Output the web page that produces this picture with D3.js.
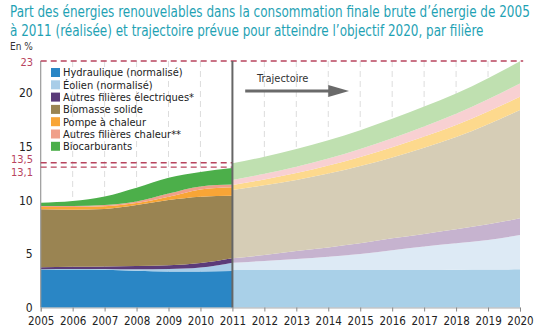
<!DOCTYPE html>
<html><head><meta charset="utf-8">
<script src="https://cdn.jsdelivr.net/npm/d3@7"></script>
<style>
body{margin:0;background:#fff}
svg{display:block}
text{font-family:"Liberation Sans Narrow","DejaVu Sans Condensed","DejaVu Sans",sans-serif}
</style>
</head><body>
<svg id="chart" width="540" height="334"></svg>
<script>
// ---------- DATA ----------
const titleLines = [
  "Part des énergies renouvelables dans la consommation finale brute d’énergie de 2005",
  "à 2011 (réalisée) et trajectoire prévue pour atteindre l’objectif 2020, par filière"
];
const unitLabel = "En %";
const seriesNames = ["Hydraulique (normalisé)", "Éolien (normalisé)", "Autres filières électriques*",
  "Biomasse solide", "Pompe à chaleur", "Autres filières chaleur**", "Biocarburants"];
const seriesKeys = ["hydro", "eolien", "autresElec", "biomasse", "pac", "autresChaleur", "biocarb"];

// realised 2005-2011
const histYears = [2005, 2006, 2007, 2008, 2009, 2010, 2011];
const histHydro        = [3.55, 3.55, 3.52, 3.43, 3.35, 3.35, 3.40];
const histEolien       = [0.03, 0.05, 0.08, 0.14, 0.24, 0.38, 0.78];
const histAutresElec   = [0.17, 0.20, 0.23, 0.30, 0.35, 0.42, 0.42];
const histBiomasse     = [5.41, 5.33, 5.37, 5.69, 6.09, 6.19, 5.83];
const histPac          = [0.22, 0.25, 0.24, 0.18, 0.30, 0.68, 0.80];
const histAutresChaleur= [0.10, 0.10, 0.12, 0.16, 0.30, 0.28, 0.24];
const histBiocarb      = [0.30, 0.45, 0.80, 1.28, 1.47, 1.35, 1.55];

// trajectory 2011-2020
const projYears = [2011, 2012, 2013, 2014, 2015, 2016, 2017, 2018, 2019, 2020];
const projHydro        = [3.50, 3.50, 3.50, 3.50, 3.50, 3.50, 3.50, 3.52, 3.54, 3.56];
const projEolien       = [0.68, 0.84, 1.02, 1.24, 1.49, 1.85, 2.20, 2.48, 2.76, 3.20];
const projAutresElec   = [0.41, 0.56, 0.75, 0.87, 1.00, 1.10, 1.16, 1.29, 1.46, 1.56];
const projBiomasse     = [6.37, 6.50, 6.63, 6.89, 7.21, 7.55, 8.04, 8.61, 9.34, 10.10];
const projPac          = [0.47, 0.55, 0.65, 0.75, 0.85, 0.95, 1.05, 1.12, 1.18, 1.24];
const projAutresChaleur= [0.47, 0.52, 0.58, 0.65, 0.75, 0.85, 0.95, 1.05, 1.15, 1.24];
const projBiocarb      = [1.55, 1.60, 1.65, 1.70, 1.75, 1.80, 1.85, 1.90, 1.97, 2.07];

const xTickYears = [2005,2006,2007,2008,2009,2010,2011,2012,2013,2014,2015,2016,2017,2018,2019,2020];
const yTicks = [0, 5, 10, 15, 20];
const refValues = [23, 13.5, 13.1];
const refLabels = ["23", "13,5", "13,1"];
const trajLabel = "Trajectoire";

// ---------- STYLE ----------
const histColors = ["#2a86c5", "#a9cde8", "#5b3b79", "#9a8452", "#f8a536", "#f0a08a", "#4caf4a"];
const projColors = ["#a9d0e8", "#ddeaf5", "#c6b3cf", "#d6cdb6", "#fdd98d", "#f8d0d2", "#bfe0b0"];
const titleColor = "#1fa2b4";
const refColor = "#b8445e";

// ---------- BUILD ----------
const svg = d3.select("#chart");
const x = d3.scaleLinear().domain([2005, 2020]).range([40.7, 520]);
const y = d3.scaleLinear().domain([0, 23]).range([307.5, 61]);

function table(years, cols) {
  return years.map((yr, i) => {
    const row = {year: yr};
    seriesKeys.forEach((k, j) => row[k] = cols[j][i]);
    return row;
  });
}
const histTable = table(histYears, [histHydro, histEolien, histAutresElec, histBiomasse, histPac, histAutresChaleur, histBiocarb]);
const projTable = table(projYears, [projHydro, projEolien, projAutresElec, projBiomasse, projPac, projAutresChaleur, projBiocarb]);
const stack = d3.stack().keys(seriesKeys);
const area = d3.area().x(d => x(d.data.year)).y0(d => y(d[0])).y1(d => y(d[1])).curve(d3.curveMonotoneX);

// title (scaled horizontally to the reference width)
const titleWidths = [520, 474];
titleLines.forEach((t, i) => {
  const g = svg.append("g").attr("transform", `translate(10,${17 + i * 19})`);
  const tx = g.append("text").attr("font-size", 16).attr("fill", titleColor).text(t);
  const w = tx.node().getComputedTextLength();
  tx.attr("transform", `scale(${titleWidths[i] / w},1)`);
});
svg.append("text").attr("x", 10).attr("y", 50).attr("font-size", 10).attr("fill", "#333").text(unitLabel);

// vertical dashed grid
const gridYears = xTickYears.filter(v => v !== 2005 && v !== 2011 && v !== 2020);
svg.append("g").selectAll("line").data(gridYears).join("line")
  .attr("x1", d => x(d)).attr("x2", d => x(d))
  .attr("y1", y(23)).attr("y2", y(0))
  .attr("stroke", "#d4d4d4").attr("stroke-width", 0.8).attr("stroke-dasharray", "6,4");

// areas
svg.append("g").selectAll("path").data(stack(projTable)).join("path")
  .attr("d", area).attr("fill", (d, i) => projColors[i]);
svg.append("g").selectAll("path").data(stack(histTable)).join("path")
  .attr("d", area).attr("fill", (d, i) => histColors[i]);

// axes
const xAxis = d3.axisBottom(x).tickValues(xTickYears).tickFormat(d3.format("d")).tickSize(4).tickPadding(5);
const gx = svg.append("g").attr("transform", `translate(0,${y(0)})`).call(xAxis);
gx.select(".domain").attr("stroke", "#999").attr("stroke-width", 0.8);
gx.selectAll(".tick line").attr("stroke", "#888");
gx.selectAll("text").attr("font-size", 11.5).attr("fill", "#222").attr("font-family", null);

const yAxis = d3.axisLeft(y).tickValues(yTicks).tickFormat(d3.format("d")).tickSize(0).tickPadding(8);
const gy = svg.append("g").attr("transform", `translate(${x(2005)},0)`).call(yAxis);
gy.select(".domain").remove();
gy.selectAll("text").attr("font-size", 12).attr("fill", "#222").attr("font-family", null);

svg.append("line").attr("x1", x(2005)).attr("x2", x(2005)).attr("y1", y(23)).attr("y2", y(0))
  .attr("stroke", "#999").attr("stroke-width", 1.2);

// reference dashed lines
const refEnds = [2020.1, 2011, 2011];
svg.append("g").selectAll("line").data(refValues).join("line")
  .attr("x1", x(2005)).attr("x2", (d, i) => x(refEnds[i]))
  .attr("y1", d => y(d)).attr("y2", d => y(d))
  .attr("stroke", refColor).attr("stroke-width", 1.4).attr("stroke-dasharray", "6,4");
const refLabelY = [y(23) + 1, y(13.5) - 4, y(13.1) + 5];
svg.append("g").selectAll("text").data(refLabels).join("text")
  .attr("x", 33).attr("y", (d, i) => refLabelY[i]).attr("dy", "0.35em")
  .attr("text-anchor", "end").attr("font-size", 11).attr("fill", refColor).text(d => d);

// 2011 separator
svg.append("line").attr("x1", x(2011)).attr("x2", x(2011)).attr("y1", y(23)).attr("y2", y(0))
  .attr("stroke", "#666").attr("stroke-width", 2);

// trajectory arrow
svg.append("text").attr("x", 257).attr("y", 82).attr("font-size", 11).attr("fill", "#333").text(trajLabel);
svg.append("line").attr("x1", x(2011.4)).attr("x2", x(2014.05)).attr("y1", 91).attr("y2", 91)
  .attr("stroke", "#6a6a6a").attr("stroke-width", 3);
svg.append("path").attr("d", d3.line()([[x(2014), 85], [x(2014.65), 91], [x(2014), 97]]) + "Z").attr("fill", "#6a6a6a");

// legend
const lg = svg.append("g").attr("transform", "translate(51,72.5)");
const rows = lg.selectAll("g").data(seriesNames).join("g").attr("transform", (d, i) => `translate(0,${i * 12.3})`);
rows.append("rect").attr("x", 0).attr("y", -4.5).attr("width", 9).attr("height", 9).attr("fill", (d, i) => histColors[i]);
rows.append("text").attr("x", 12).attr("y", 0).attr("dy", "0.36em").attr("font-size", 11).attr("fill", "#222").text(d => d);
</script>
</body></html>
